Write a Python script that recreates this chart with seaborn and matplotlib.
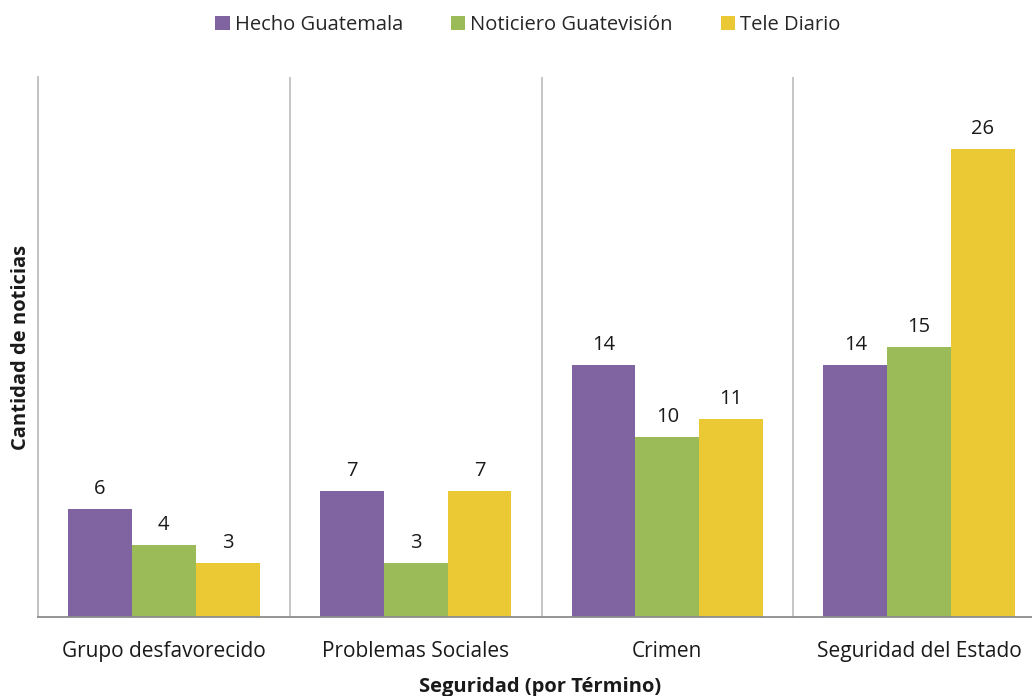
import matplotlib
matplotlib.use("Agg")
import matplotlib.pyplot as plt
import seaborn as sns
import pandas as pd
from matplotlib.ticker import FixedLocator

categories = ["Grupo desfavorecido", "Problemas Sociales", "Crimen", "Seguridad del Estado"]
series = ["Hecho Guatemala", "Noticiero Guatevisión", "Tele Diario"]
hecho = [6, 7, 14, 14]
noticiero = [4, 3, 10, 15]
tele = [3, 7, 11, 26]
colors = ["#8064A2", "#9BBB59", "#EBC935"]

rows = []
for s, vals in zip(series, [hecho, noticiero, tele]):
    for c, v in zip(categories, vals):
        rows.append({"cat": c, "serie": s, "val": v})
df = pd.DataFrame(rows)

sns.set_theme(style="white")
plt.rcParams["font.family"] = ["Open Sans", "DejaVu Sans"]

fig = plt.figure(figsize=(10.32, 6.96), dpi=100)
ax = fig.add_axes([38/1032, 79/696, 1007/1032, 540/696])
sns.barplot(data=df, x="cat", y="val", hue="serie", palette=colors,
            width=0.76, saturation=1, ax=ax, linewidth=0)

for cont in ax.containers:
    ax.bar_label(cont, padding=7.5, fontsize=14.5, color="#1a1a1a")

ax.set_ylim(0, 30)
ax.set_xlim(-0.5, 3.5)
ax.set_yticks([])
ax.xaxis.set_minor_locator(FixedLocator([-0.5, 0.5, 1.5, 2.5, 3.5]))
ax.grid(True, which="minor", axis="x", color="#c0c0c0", linewidth=1.3)
ax.tick_params(axis="x", which="major", length=0, labelsize=15, pad=17, colors="#1a1a1a")
ax.tick_params(axis="x", which="minor", length=4, color="#c0c0c0", width=1.3)
ax.set_axisbelow(True)
for sp in ["top", "right"]:
    ax.spines[sp].set_visible(False)
ax.spines["left"].set_color("#c0c0c0")
ax.spines["left"].set_linewidth(1.3)
ax.spines["bottom"].set_color("#8c8c8c")
ax.spines["bottom"].set_linewidth(1.3)

ax.set_xlabel("Seguridad (por Término)", fontsize=14.5, fontweight="bold", color="#1a1a1a")
ax.xaxis.label.set_va("center")
ax.xaxis.set_label_coords((540 - 38) / 1007, -(687 - 617) / 540)
ax.set_ylabel("Cantidad de noticias", fontsize=14.5, fontweight="bold", color="#1a1a1a")
ax.yaxis.set_label_coords(-(38 - 31) / 1007, (617 - 347) / 540)

handles, labels = ax.get_legend_handles_labels()
ax.legend_.remove()
fig.legend(handles, labels, loc="center", bbox_to_anchor=(528/1032, 1 - 25/696), ncol=3,
           frameon=False, fontsize=14.5, handlelength=0.7, handleheight=0.7,
           handletextpad=0.25, columnspacing=2.4)

fig.savefig("out.png", dpi=100)
